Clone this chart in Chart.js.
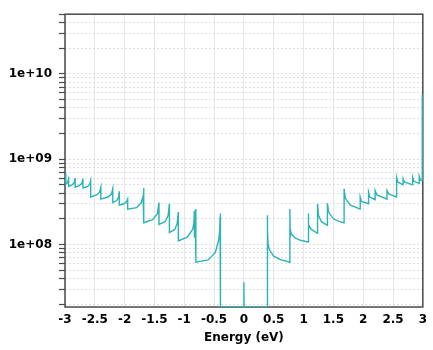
<!DOCTYPE html>
<html>
<head>
<meta charset="utf-8">
<script src="https://cdn.jsdelivr.net/npm/chart.js@4/dist/chart.umd.min.js"></script>
<style>
  body { margin: 0; background: #fff; }
  #dos { display: block; }
</style>
</head>
<body>
<canvas id="dos" width="433" height="350"></canvas>
<script>
// density of states, energy in eV
var energy = [
  -3.000, -2.990, -2.985, -2.984, -2.960, -2.945, -2.940, -2.939,
  -2.880, -2.845, -2.830, -2.829, -2.760, -2.715, -2.700, -2.699,
  -2.620, -2.585, -2.570, -2.569, -2.470, -2.420, -2.400, -2.399,
  -2.280, -2.220, -2.200, -2.199, -2.130, -2.100, -2.090, -2.089,
  -2.010, -1.965, -1.950, -1.949, -1.800, -1.720, -1.690, -1.680, -1.679,
  -1.530, -1.450, -1.425, -1.424, -1.320, -1.270, -1.250, -1.249,
  -1.160, -1.120, -1.100, -1.099, -0.950, -0.860, -0.840, -0.830, -0.829,
  -0.812, -0.806, -0.805, -0.600, -0.480, -0.420, -0.405, -0.400, -0.399,
  -0.394, -0.392, -0.391, -0.003, 0.000, 0.003, 0.391,
  0.392, 0.395, 0.398, 0.405, 0.430, 0.500, 0.600, 0.770,
  0.771, 0.776, 0.780, 0.790, 0.850, 0.950, 1.075,
  1.076, 1.090, 1.130, 1.234, 1.235, 1.250, 1.300, 1.399,
  1.400, 1.420, 1.500, 1.600, 1.679, 1.680, 1.700, 1.780, 1.949,
  1.950, 1.970, 2.089, 2.090, 2.110, 2.199, 2.200, 2.230, 2.399,
  2.400, 2.430, 2.559, 2.560, 2.580, 2.669, 2.670, 2.690, 2.829,
  2.830, 2.850, 2.939, 2.940, 2.960, 2.990, 2.991
];
var dos = [
  5.9e8, 6.3e8, 6.8e8, 5.1e8, 5.3e8, 5.7e8, 6.2e8, 4.8e8,
  5.0e8, 5.3e8, 6.0e8, 4.7e8, 4.9e8, 5.2e8, 5.9e8, 4.6e8,
  4.8e8, 5.1e8, 5.6e8, 3.6e8, 3.8e8, 4.1e8, 4.7e8, 3.4e8,
  3.6e8, 3.9e8, 4.5e8, 3.1e8, 3.3e8, 3.6e8, 4.2e8, 2.9e8,
  3.0e8, 3.2e8, 3.4e8, 2.6e8, 2.7e8, 3.1e8, 3.7e8, 4.6e8, 1.8e8,
  1.95e8, 2.3e8, 3.1e8, 1.72e8, 1.85e8, 2.2e8, 3.0e8, 1.38e8,
  1.5e8, 1.75e8, 2.4e8, 1.1e8, 1.22e8, 1.5e8, 1.75e8, 2.5e8, 1.2e8,
  1.55e8, 2.6e8, 6.2e7, 6.6e7, 8.0e7, 1.15e8, 1.5e8, 2.1e8, 1.4e8,
  1.7e8, 2.3e8, 1.87e7, 1.87e7, 3.6e7, 1.87e7, 1.87e7,
  2.2e8, 1.2e8, 1.5e8, 1.0e8, 8.6e7, 7.3e7, 6.7e7, 6.2e7,
  2.6e8, 1.25e8, 1.5e8, 1.35e8, 1.2e8, 1.12e8, 1.07e8,
  2.3e8, 1.7e8, 1.5e8, 1.35e8, 3.0e8, 2.2e8, 1.85e8, 1.68e8,
  3.05e8, 2.4e8, 2.0e8, 1.85e8, 1.8e8, 4.5e8, 3.5e8, 2.9e8, 2.6e8,
  3.6e8, 3.2e8, 3.0e8, 4.1e8, 3.6e8, 3.35e8, 4.3e8, 3.8e8, 3.4e8,
  4.3e8, 3.9e8, 3.6e8, 6.1e8, 5.4e8, 5.0e8, 5.9e8, 5.4e8, 5.0e8,
  6.1e8, 5.5e8, 5.2e8, 6.3e8, 5.7e8, 5.6e8, 5.7e9
];
var xTicks = [-3, -2.5, -2, -1.5, -1, -0.5, 0, 0.5, 1, 1.5, 2, 2.5, 3];
var yDecades = [7, 8, 9, 10];

var yMin = 1.85e7;
var yMax = 5e10;
var tickFont = { family: "'DejaVu Sans', Verdana, sans-serif", size: 12, weight: "bold" };

function logTicks() {
  var list = [];
  yDecades.forEach(function (e) {
    for (var m = 1; m <= 9; m++) {
      var v = m * Math.pow(10, e);
      if (v >= yMin && v <= yMax) list.push({ value: v });
    }
  });
  return list;
}

function expLabel(v) {
  var e = Math.round(Math.log10(v));
  if (Math.abs(v - Math.pow(10, e)) > 1e-6 * v) return "";
  return "1e+" + (e < 10 ? "0" + e : e);
}

// dark frame round the plot area, under the curve
var frame = {
  id: "frame",
  beforeDatasetsDraw: function (chart) {
    var a = chart.chartArea, ctx = chart.ctx;
    ctx.save();
    ctx.strokeStyle = "#4a4a4a";
    ctx.lineWidth = 1.5;
    ctx.strokeRect(a.left, a.top, a.right - a.left, a.bottom - a.top);
    ctx.restore();
  }
};

var points = energy.map(function (e, i) { return { x: e, y: dos[i] }; });

new Chart(document.getElementById("dos").getContext("2d"), {
  type: "line",
  data: {
    datasets: [{
      data: points,
      borderColor: "#2bb4b6",
      borderWidth: 1.4,
      pointRadius: 0,
      tension: 0,
      fill: false
    }]
  },
  options: {
    responsive: false,
    animation: false,
    layout: { padding: { top: 11, right: 6, left: 0, bottom: 0 } },
    plugins: { legend: { display: false }, tooltip: { enabled: false } },
    scales: {
      x: {
        type: "linear",
        min: -3,
        max: 3,
        afterBuildTicks: function (scale) {
          scale.ticks = xTicks.map(function (v) { return { value: v }; });
        },
        afterFit: function (scale) { scale.height = 43; },
        grid: { color: "#e6e6e6", drawTicks: false },
        border: { display: false },
        ticks: {
          color: "#000",
          font: tickFont,
          padding: 6,
          maxRotation: 0,
          autoSkip: false,
          callback: function (v) { return String(v); }
        },
        title: {
          display: true,
          text: "Energy (eV)",
          color: "#000",
          font: tickFont,
          padding: { top: 0, bottom: 5 }
        }
      },
      y: {
        type: "logarithmic",
        min: yMin,
        max: yMax,
        afterBuildTicks: function (scale) { scale.ticks = logTicks(); },
        afterFit: function (scale) { scale.width = 65; },
        grid: {
          color: "#dedede",
          tickLength: 6,
          tickColor: "#4a4a4a",
          tickWidth: 1.2,
          tickBorderDash: []
        },
        border: { display: false, dash: [2, 2] },
        ticks: {
          color: "#000",
          font: tickFont,
          padding: 7,
          autoSkip: false,
          callback: function (v) { return expLabel(v); }
        }
      }
    }
  },
  plugins: [frame]
});
</script>
</body>
</html>
